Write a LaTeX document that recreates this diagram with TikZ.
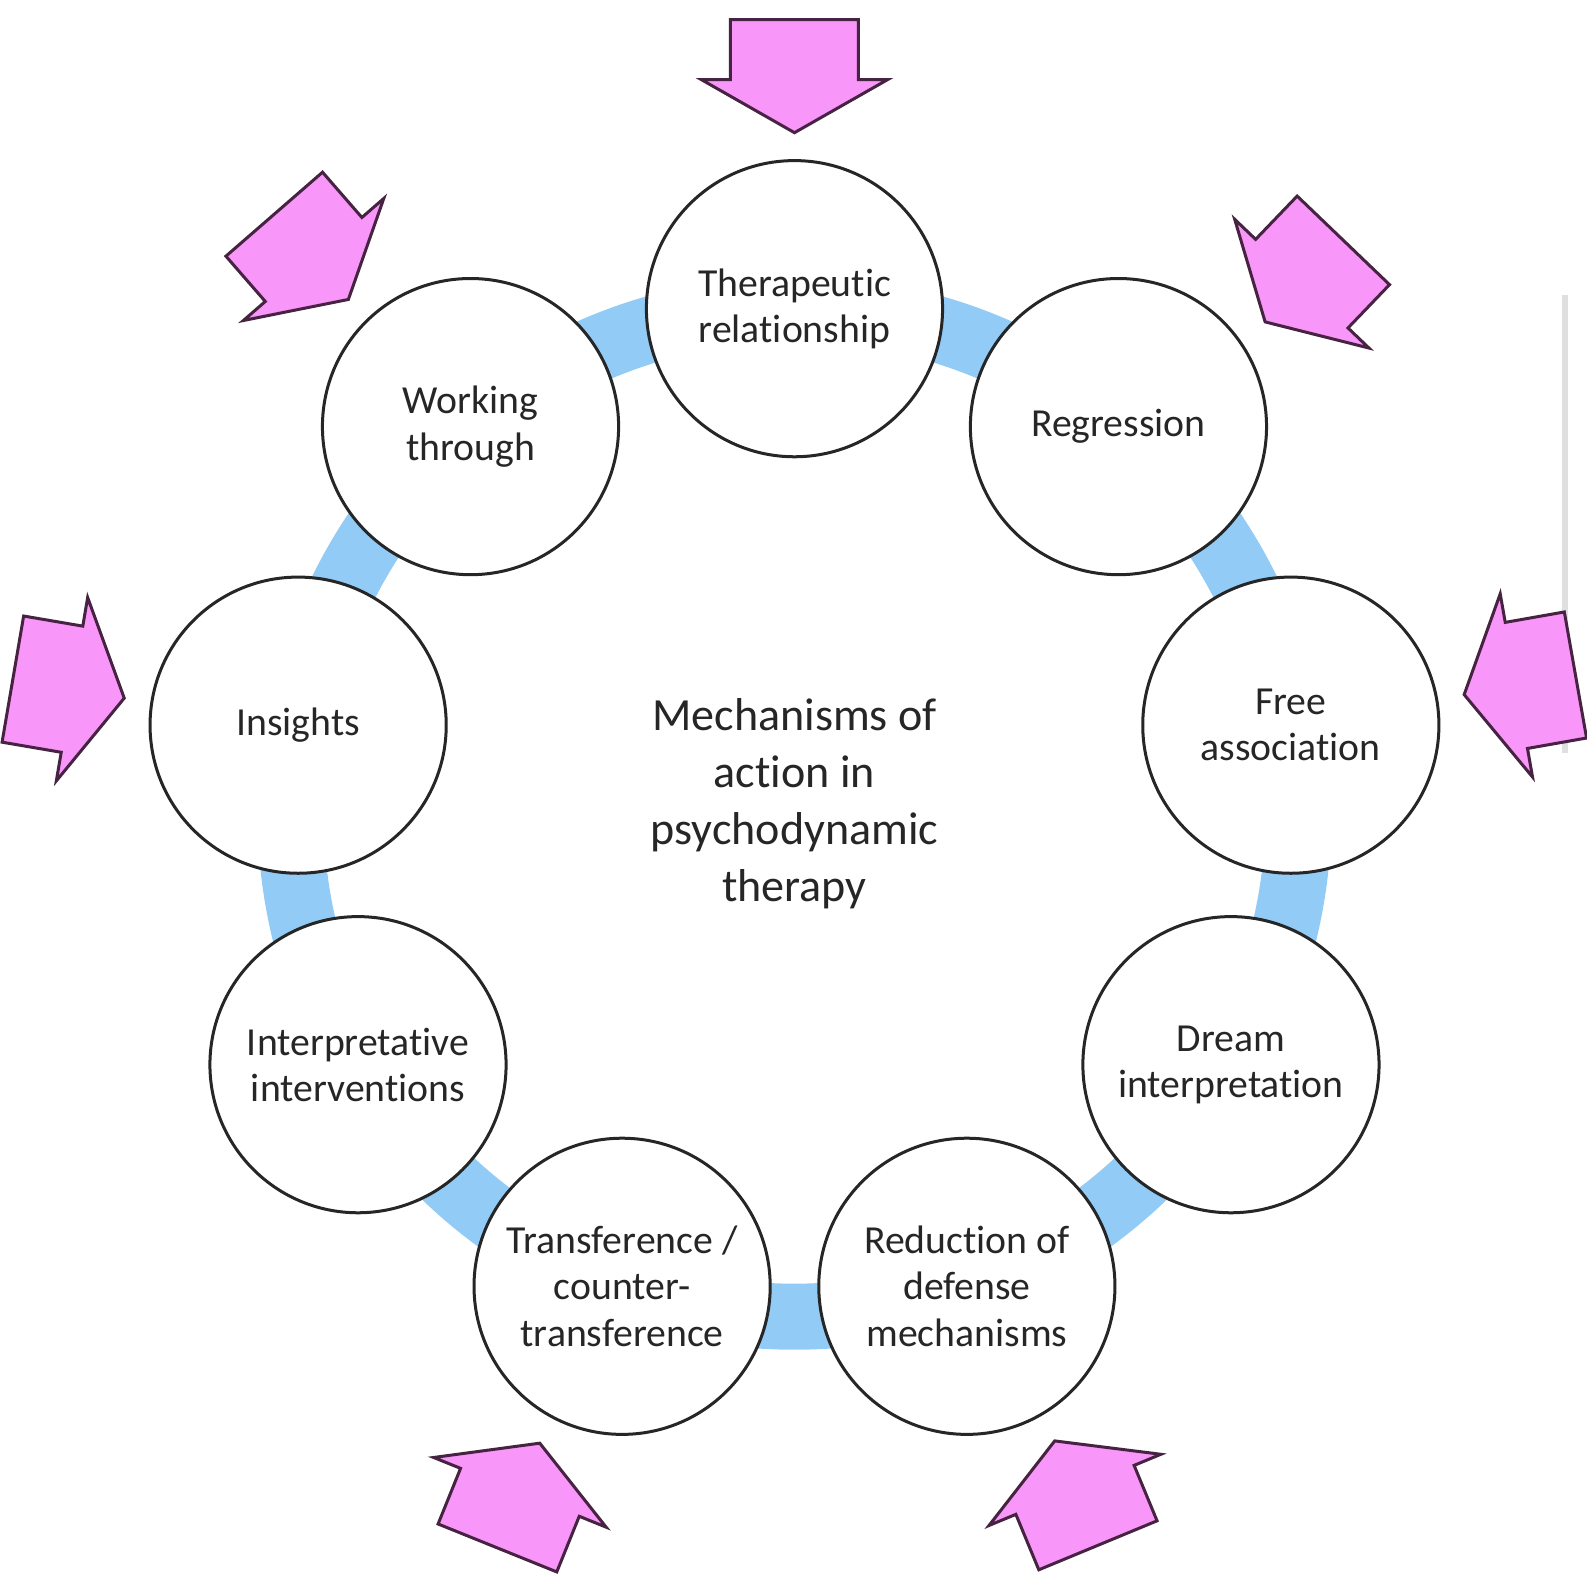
\documentclass[tikz,border=0pt]{standalone}
\usepackage{fontspec}
\setmainfont{Carlito}[Ligatures=NoCommon]
\definecolor{bandblue}{RGB}{146,204,246}
\definecolor{arrowpink}{RGB}{249,150,249}
\definecolor{arrowline}{RGB}{70,35,65}
\begin{document}
\begin{tikzpicture}[x=0.01cm, y=0.01cm,
	stage/.style={circle, draw=black!85, line width=0.03cm, fill=white, minimum size=2.96cm, inner sep=0pt, align=center, text=black!85, font=\fontsize{11.3}{13.1}\selectfont},
	band/.style={draw=bandblue, line width=0.66cm},
	pushin/.style={fill=arrowpink, draw=arrowline, line width=0.03cm, line join=miter}]
\useasboundingbox (-794.5,-772.3) rectangle (792.5,812.7);
\draw[band] (0,0) circle (504);
\node[stage] (therapeutic) at (90:504) {Therapeutic\\relationship};
\node[stage] (regression) at (50:504) {Regression};
\node[stage] (freeassoc) at (10:504) {Free\\association};
\node[stage] (dream) at (-30:504) {Dream\\interpretation};
\node[stage] (defense) at (-70:504) {Reduction of\\defense\\mechanisms};
\node[stage] (transference) at (-110:504) {Transference /\\counter-\\transference};
\node[stage] (interventions) at (-150:504) {Interpretative\\interventions};
\node[stage] (insights) at (170:504) {Insights};
\node[stage] (working) at (130:504) {Working\\through};
\node[align=center, text=black!85, font=\fontsize{13.1}{16.2}\selectfont] (title) at (0,9) {Mechanisms of\\action in\\psychodynamic\\therapy};
% faint line on the right edge
\draw[gray!25, line width=0.06cm] (770.5,518) -- (770.5,60);
% arrows pointing inward
\foreach \a in {90,46.2,10,-67.5,-112,170.3,131}
	\draw[pushin, rotate=\a] (793,64) -- (733,64) -- (733,93) -- (680,0) -- (733,-93) -- (733,-64) -- (793,-64) -- cycle;
\end{tikzpicture}
\end{document}
